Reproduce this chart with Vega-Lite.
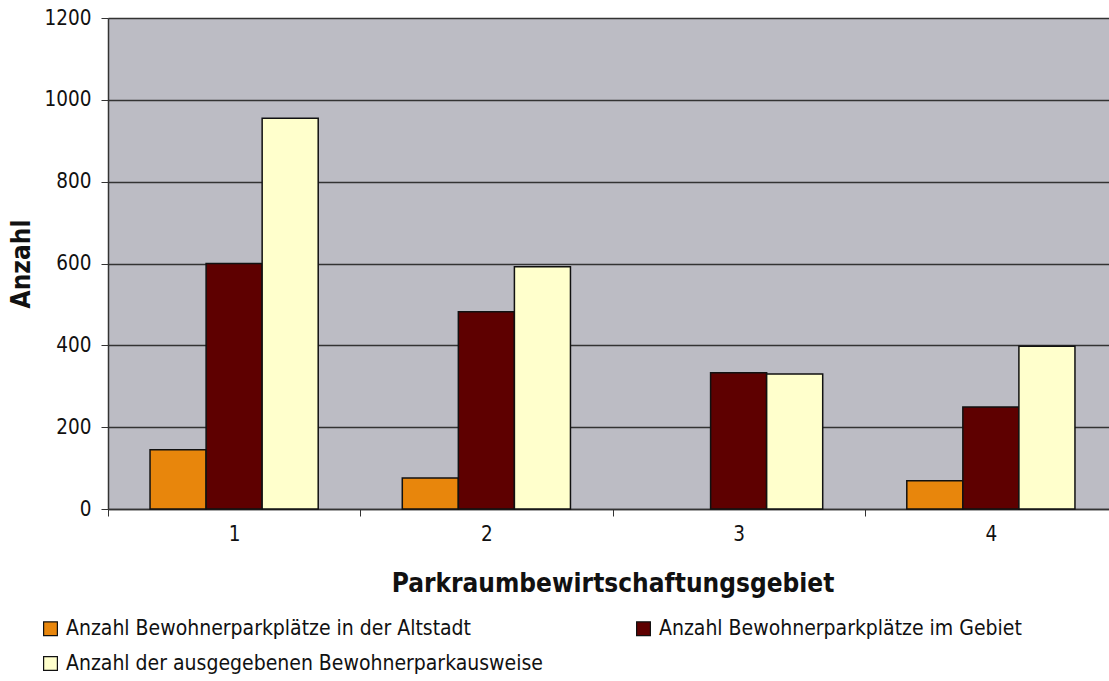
{
  "$schema": "https://vega.github.io/schema/vega-lite/v6.json",
  "width": 1009,
  "height": 491,
  "autosize": {"type": "none"},
  "padding": {"left": 108, "top": 18, "right": -8, "bottom": 172},
  "background": "white",
  "config": {
    "view": {"fill": "#BCBCC4", "stroke": null},
    "font": "DejaVu Sans Condensed"
  },
  "data": {
    "values": [
      {"gebiet": "1", "serie": "Anzahl Bewohnerparkplätze in der Altstadt", "wert": 145},
      {"gebiet": "1", "serie": "Anzahl Bewohnerparkplätze im Gebiet", "wert": 600},
      {"gebiet": "1", "serie": "Anzahl der ausgegebenen Bewohnerparkausweise", "wert": 955},
      {"gebiet": "2", "serie": "Anzahl Bewohnerparkplätze in der Altstadt", "wert": 76},
      {"gebiet": "2", "serie": "Anzahl Bewohnerparkplätze im Gebiet", "wert": 482},
      {"gebiet": "2", "serie": "Anzahl der ausgegebenen Bewohnerparkausweise", "wert": 592},
      {"gebiet": "3", "serie": "Anzahl Bewohnerparkplätze in der Altstadt", "wert": 0},
      {"gebiet": "3", "serie": "Anzahl Bewohnerparkplätze im Gebiet", "wert": 333},
      {"gebiet": "3", "serie": "Anzahl der ausgegebenen Bewohnerparkausweise", "wert": 330},
      {"gebiet": "4", "serie": "Anzahl Bewohnerparkplätze in der Altstadt", "wert": 69},
      {"gebiet": "4", "serie": "Anzahl Bewohnerparkplätze im Gebiet", "wert": 249},
      {"gebiet": "4", "serie": "Anzahl der ausgegebenen Bewohnerparkausweise", "wert": 398}
    ]
  },
  "mark": {"type": "bar", "stroke": "#111111", "strokeWidth": 1.5},
  "encoding": {
    "x": {
      "field": "gebiet",
      "type": "nominal",
      "scale": {"paddingInner": 0, "paddingOuter": 0},
      "axis": {
        "title": "Parkraumbewirtschaftungsgebiet",
        "titleFontSize": 26,
        "titleFontWeight": "bold",
        "titleColor": "#111111",
        "titlePadding": 26,
        "labelAngle": 0,
        "labelFontSize": 20.5,
        "labelColor": "#111111",
        "labelPadding": 8,
        "tickBand": "extent",
        "tickSize": 7,
        "tickColor": "#333333",
        "domainColor": "#333333",
        "domainWidth": 1.5,
        "grid": false
      }
    },
    "xOffset": {
      "field": "serie",
      "type": "nominal",
      "sort": ["Anzahl Bewohnerparkplätze in der Altstadt", "Anzahl Bewohnerparkplätze im Gebiet", "Anzahl der ausgegebenen Bewohnerparkausweise"],
      "scale": {"paddingInner": 0, "paddingOuter": 0.75}
    },
    "y": {
      "field": "wert",
      "type": "quantitative",
      "scale": {"domain": [0, 1200], "nice": false},
      "axis": {
        "title": "Anzahl",
        "titleFontSize": 26,
        "titleFontWeight": "bold",
        "titleColor": "#111111",
        "titlePadding": 10,
        "values": [0, 200, 400, 600, 800, 1000, 1200],
        "format": "d",
        "labelFontSize": 20.5,
        "labelColor": "#111111",
        "labelPadding": 10,
        "tickSize": 7,
        "tickColor": "#333333",
        "domainColor": "#333333",
        "domainWidth": 1.5,
        "gridColor": "#333333",
        "gridWidth": 1.3,
        "gridOpacity": 1
      }
    },
    "stroke": {
      "condition": {"test": "datum.wert == 0", "value": null},
      "value": "#111111"
    },
    "color": {
      "field": "serie",
      "type": "nominal",
      "sort": ["Anzahl Bewohnerparkplätze in der Altstadt", "Anzahl Bewohnerparkplätze im Gebiet", "Anzahl der ausgegebenen Bewohnerparkausweise"],
      "scale": {
        "domain": ["Anzahl Bewohnerparkplätze in der Altstadt", "Anzahl Bewohnerparkplätze im Gebiet", "Anzahl der ausgegebenen Bewohnerparkausweise"],
        "range": ["#E8860C", "#5E0000", "#FFFFCC"]
      },
      "legend": {
        "title": null,
        "orient": "none",
        "legendX": -68,
        "legendY": 600,
        "direction": "horizontal",
        "columns": 2,
        "columnPadding": 90,
        "rowPadding": 13,
        "symbolType": "square",
        "symbolSize": 190,
        "symbolStrokeColor": "#111111",
        "symbolStrokeWidth": 1.2,
        "symbolOpacity": 1,
        "labelFontSize": 21,
        "labelColor": "#111111",
        "labelOffset": 5,
        "labelLimit": 700
      }
    }
  }
}
